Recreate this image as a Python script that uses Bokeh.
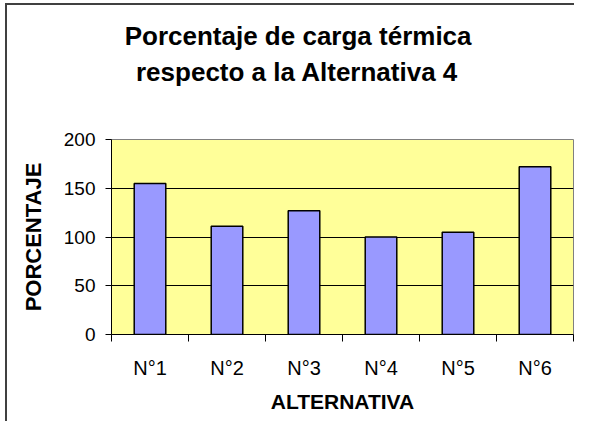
from bokeh.plotting import figure
from bokeh.models import FixedTicker, Title, Range1d
from bokeh.embed import file_html
from bokeh.resources import INLINE

# ---- data ----
categories = ["N°1", "N°2", "N°3", "N°4", "N°5", "N°6"]
porcentaje = [155, 111, 127, 100, 105, 172]
y_ticks = [0, 50, 100, 150, 200]
title_lines = ["Porcentaje de carga térmica", "respecto a la Alternativa 4"]
x_title = "ALTERNATIVA"
y_title = "PORCENTAJE"

FONT = "Liberation Sans"

x_pos = [i + 0.5 for i in range(len(categories))]
x_bounds = list(range(len(categories) + 1))

p = figure(frame_width=462, frame_height=195, output_backend="svg", toolbar_location=None,
           x_range=Range1d(0, len(categories)), y_range=Range1d(0, 200),
           min_border_left=104, min_border_right=3, min_border_top=134,
           min_border_bottom=89)
# chart-area border (left and top edges visible), drawn without affecting layout
p.styles = {"margin-left": "7px", "margin-top": "5px",
            "box-shadow": "-2px -2px 0px 0px #404040"}

p.background_fill_color = "#FFFF99"
p.border_fill_color = "white"
p.outline_line_color = "#808080"
p.outline_line_width = 1

p.vbar(x=x_pos, top=porcentaje, bottom=0, width=0.41,
       fill_color="#9999FF", line_color="black", line_width=1.5)

# grid
p.xgrid.visible = False
p.ygrid.ticker = FixedTicker(ticks=y_ticks[1:-1])
p.ygrid.grid_line_color = "black"
p.ygrid.grid_line_width = 1

# y axis
ya = p.yaxis[0]
ya.ticker = FixedTicker(ticks=y_ticks)
ya.major_tick_in = 0
ya.major_tick_out = 6
ya.minor_tick_line_color = None
ya.axis_line_color = "black"
ya.major_tick_line_color = "black"
ya.major_label_text_font = FONT
ya.major_label_text_font_size = "19px"
ya.major_label_text_color = "black"
ya.major_label_standoff = 10
ya.axis_label = y_title
ya.axis_label_text_font = FONT
ya.axis_label_text_font_style = "bold"
ya.axis_label_text_font_size = "22px"
ya.axis_label_text_color = "black"
ya.axis_label_standoff = 15

# x axis
xa = p.xaxis[0]
xa.ticker = FixedTicker(ticks=x_pos, minor_ticks=x_bounds)
xa.major_tick_in = 0
xa.major_tick_out = 0
xa.minor_tick_in = 0
xa.minor_tick_out = 7
xa.minor_tick_line_color = "black"
xa.axis_line_color = "black"
xa.major_label_overrides = {x: c for x, c in zip(x_pos, categories)}
xa.major_label_text_font = FONT
xa.major_label_text_font_size = "20px"
xa.major_label_text_color = "black"
xa.major_label_standoff = 15
xa.axis_label = x_title
xa.axis_label_text_font = FONT
xa.axis_label_text_font_style = "bold"
xa.axis_label_text_font_size = "21px"
xa.axis_label_text_color = "black"
xa.axis_label_standoff = 8

# title: spacer nearest the frame, then line 2, then line 1
p.add_layout(Title(text=" ", text_font_size="24px", standoff=22), "above")
p.add_layout(Title(text=title_lines[1], align="left", offset=24.5,
                   text_font=FONT, text_font_style="bold", text_font_size="26px",
                   text_color="black", standoff=4), "above")
p.add_layout(Title(text=title_lines[0], align="left", offset=13.2,
                   text_font=FONT, text_font_style="bold", text_font_size="26px",
                   text_color="black", standoff=4), "above")

open("out.html", "w").write(file_html(p, INLINE))
